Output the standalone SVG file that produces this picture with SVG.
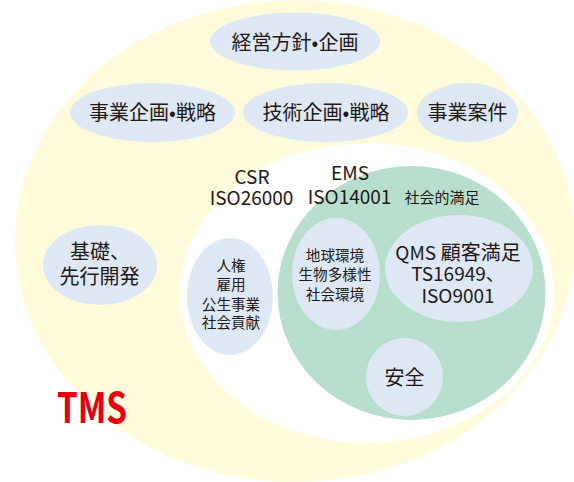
<svg xmlns="http://www.w3.org/2000/svg" width="574" height="482" viewBox="0 0 574 482">
<style>
text{font-family:"Noto Sans CJK JP","Noto Sans",sans-serif;fill:#231815;text-anchor:middle}
.blue{fill:#dee9f5}
.l{font-size:19px}
.m{font-size:20px}
.q{font-size:19px}
.s{font-size:14.6px}
.tms{font-size:42px;font-weight:bold;fill:#e60012;text-anchor:start}
</style>
<g id="tms-area">
<ellipse cx="295" cy="241" rx="280" ry="241" fill="#fffbdb"/>
<text class="tms" x="57" y="423" textLength="70" lengthAdjust="spacingAndGlyphs">TMS</text>
</g>
<g id="csr-area">
<ellipse cx="367" cy="293" rx="187" ry="150" fill="#ffffff"/>
<text class="l" x="252" y="183.5">CSR</text>
<text class="l" x="251.5" y="205">ISO26000</text>
</g>
<g id="ems-area">
<ellipse cx="411.5" cy="293" rx="134" ry="127" fill="#b8dfcd"/>
<text class="l" x="350" y="180">EMS</text>
<text class="l" x="349.5" y="203.5">ISO14001</text>
<text style="font-size:15px" x="442" y="203">社会的満足</text>
</g>
<g id="keiei">
<ellipse class="blue" cx="295" cy="41.5" rx="85" ry="29"/>
<text class="m" x="295" y="49.5">経営方針•企画</text>
</g>
<g id="jigyo-kikaku">
<ellipse class="blue" cx="152.5" cy="112.5" rx="82.5" ry="29.5"/>
<text class="m" x="152.5" y="120">事業企画•戦略</text>
</g>
<g id="gijutsu-kikaku">
<ellipse class="blue" cx="325.5" cy="112.5" rx="82.5" ry="29.5"/>
<text class="m" x="326" y="120">技術企画•戦略</text>
</g>
<g id="jigyo-anken">
<ellipse class="blue" cx="467.5" cy="112.5" rx="50.5" ry="29.5"/>
<text class="m" x="467.5" y="120">事業案件</text>
</g>
<g id="kiso">
<ellipse class="blue" cx="100" cy="265" rx="57" ry="40"/>
<text class="m" x="100" y="258.5">基礎、</text>
<text class="m" x="99.5" y="283.5">先行開発</text>
</g>
<g id="jinken">
<ellipse class="blue" cx="230" cy="296.5" rx="43" ry="58.5"/>
<text class="s" x="231" y="271.2">人権</text>
<text class="s" x="231" y="290.4">雇用</text>
<text class="s" x="231" y="309.6">公生事業</text>
<text class="s" x="231" y="327.9">社会貢献</text>
</g>
<g id="chikyu">
<ellipse class="blue" cx="336" cy="274" rx="44" ry="56"/>
<text class="s" x="335" y="261.4">地球環境</text>
<text class="s" x="335" y="280.4">生物多様性</text>
<text class="s" x="335" y="300.4">社会環境</text>
</g>
<g id="qms">
<ellipse class="blue" cx="459" cy="268.5" rx="74" ry="53.5"/>
<text class="m" x="458" y="259.5"><tspan class="q">QMS</tspan> 顧客満足</text>
<text class="q" x="458" y="280.5">TS16949、</text>
<text class="q" x="458" y="303">ISO9001</text>
</g>
<g id="anzen">
<ellipse class="blue" cx="404.5" cy="377" rx="38.5" ry="39"/>
<text class="m" x="404.5" y="384.5">安全</text>
</g>
<g id="connectors"/>
</svg>
